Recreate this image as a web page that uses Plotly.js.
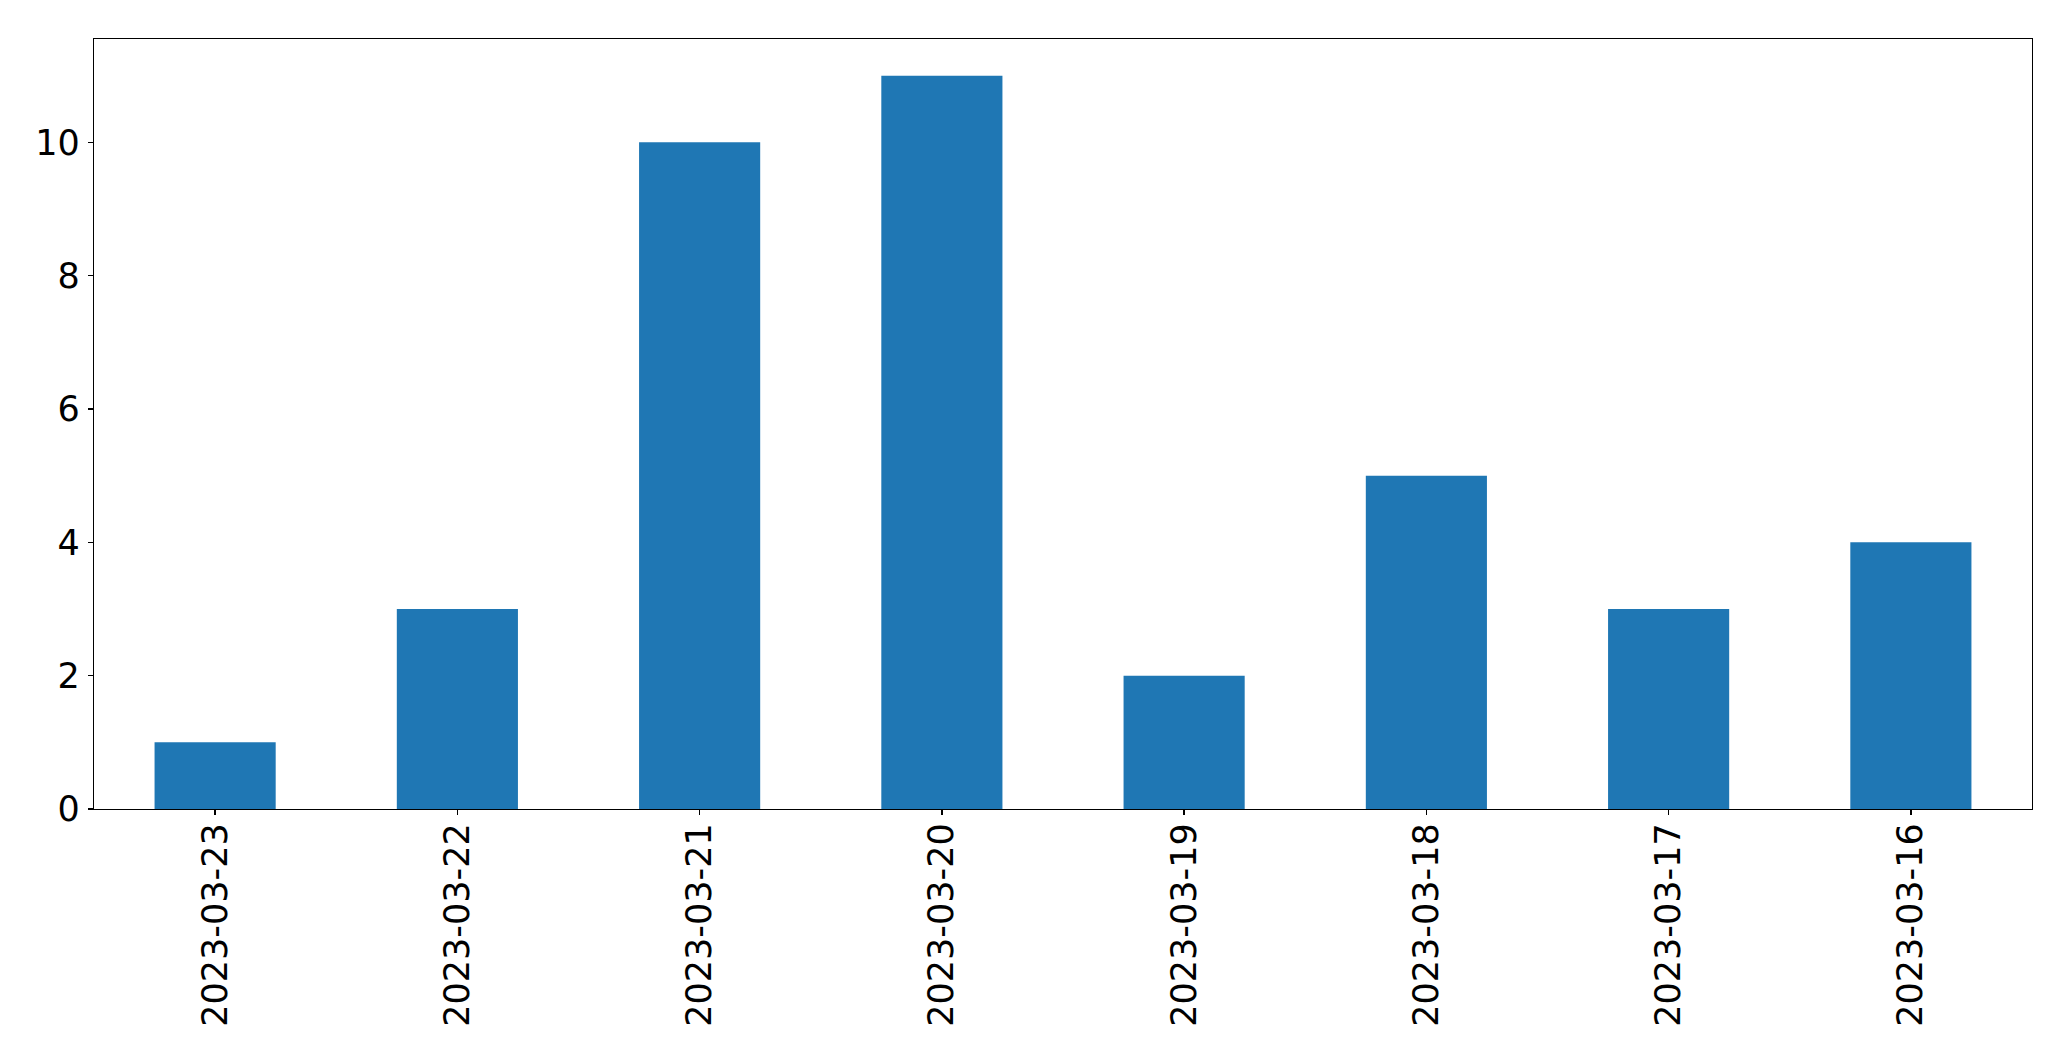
<!DOCTYPE html>
<html>
<head>
<meta charset="utf-8">
<script src="https://cdn.plot.ly/plotly-3.0.1.min.js"></script>
<style>html,body{margin:0;padding:0;background:#fff;}</style>
</head>
<body>
<div id="chart" style="width:2071px;height:1061px;"></div>
<script>
const categories = ["2023-03-23","2023-03-22","2023-03-21","2023-03-20","2023-03-19","2023-03-18","2023-03-17","2023-03-16"];
const counts = [1, 3, 10, 11, 2, 5, 3, 4];
const yTicks = [0, 2, 4, 6, 8, 10];

const trace = {
  type: 'bar',
  x: categories,
  y: counts,
  width: 0.5,
  marker: {color: '#1f77b4', line: {width: 0}},
  hoverinfo: 'x+y'
};

const axisCommon = {
  showline: true, mirror: true, linecolor: '#000', linewidth: 1.3,
  ticks: 'outside', ticklen: 5, tickwidth: 1.3, tickcolor: '#000',
  showgrid: false, zeroline: false,
  tickfont: {family: 'DejaVu Sans', size: 35, color: '#000'}
};

const layout = {
  width: 2071, height: 1061,
  margin: {l: 94, r: 39, t: 39, b: 252, pad: 0},
  paper_bgcolor: '#fff', plot_bgcolor: '#fff',
  showlegend: false,
  bargap: 0.5,
  xaxis: Object.assign({}, axisCommon, {
    type: 'category', range: [-0.5, 7.5], tickangle: -90,
    ticklabelstandoff: -6
  }),
  yaxis: Object.assign({}, axisCommon, {
    range: [0, 11.55], tickvals: yTicks, ticktext: yTicks.map(String),
    ticklabelstandoff: 1
  })
};

Plotly.newPlot('chart', [trace], layout, {displayModeBar: false, staticPlot: true});
</script>
</body>
</html>
